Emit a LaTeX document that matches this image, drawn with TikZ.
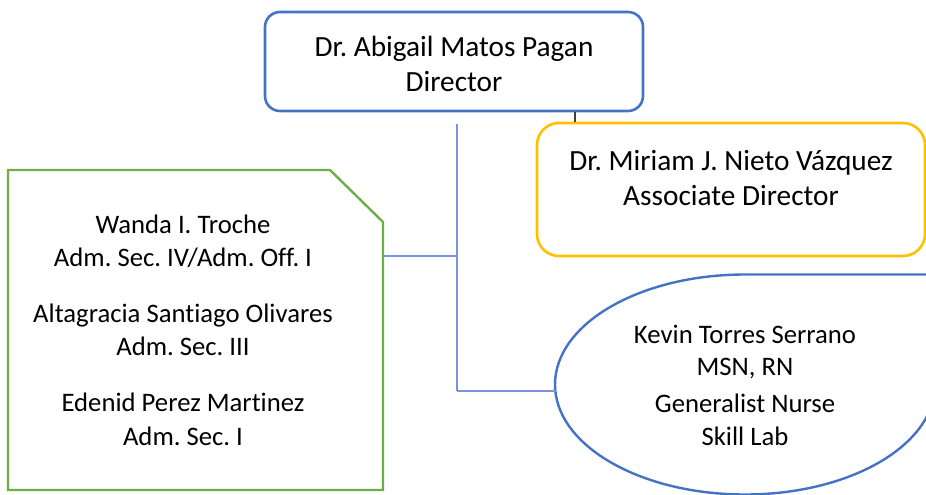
\documentclass[tikz,border=0pt]{standalone}
\usepackage{fontspec}
\setmainfont{Carlito}[Ligatures=NoCommon]
\definecolor{dblue}{HTML}{4472C4}
\definecolor{gold}{HTML}{FFC000}
\definecolor{lgreen}{HTML}{70AD47}
\definecolor{cblue}{RGB}{120,150,215}
\definecolor{dgrey}{HTML}{404040}
\begin{document}
\frenchspacing
\begin{tikzpicture}[x=1pt,y=-1pt,
  dirbox/.style={draw=dblue,line width=2.6pt,rounded corners=15pt,minimum width=378pt,minimum height=99pt,inner sep=0pt},
  assocbox/.style={draw=gold,line width=2.6pt,rounded corners=22pt,minimum width=388pt,minimum height=133pt,inner sep=0pt},
  greenbox/.style={draw=lgreen,line width=2.4pt},
  tearbox/.style={draw=dblue,line width=2.4pt},
  bigtxt/.style={anchor=base,inner sep=0pt,font=\fontsize{29.3}{34}\selectfont\frenchspacing},
  smalltxt/.style={anchor=base,inner sep=0pt,font=\fontsize{26.7}{32}\selectfont\frenchspacing},
  conn/.style={draw=cblue,line width=1.3pt},
  blkconn/.style={draw=dgrey,line width=1.5pt}]
\useasboundingbox (0,0) rectangle (926,495);
\clip (0,0) rectangle (926,495);

% boxes
\node[dirbox] (dir) at (454,61.5) {};
\node[assocbox] (assoc) at (731,189.5) {};
\draw[greenbox] (8,170) -- (330,170) -- (383,222) -- (383,490) -- (8,490) -- cycle;
\draw[tearbox] (555,384.5) .. controls (555,323.75) and (640.06,274.5) .. (745,274.5)
  -- (935,274.5) -- (935,384.5)
  .. controls (935,445.25) and (849.94,494.5) .. (745,494.5)
  .. controls (640.06,494.5) and (555,445.25) .. (555,384.5) -- cycle;

% named connector points
\coordinate (bx) at (575,0);
\coordinate (hubtop) at (457,124);
\coordinate (hubbot) at (457,391);
\coordinate (greenE) at (383,256);
\coordinate (tearW) at (555.5,391);

% connectors
\draw[blkconn] (dir.south -| bx) -- (assoc.north -| bx);
\draw[conn] (hubtop) -- (hubbot);
\draw[conn] (greenE) -- (greenE -| hubtop);
\draw[conn] (hubbot) -- (tearW);

% texts
\node[bigtxt] (d1) at (454,57) {Dr. Abigail Matos Pagan};
\node[bigtxt] (d2) at (454,91) {Director};
\node[bigtxt] (a1) at (731,170) {Dr. Miriam J. Nieto Vázquez};
\node[bigtxt] (a2) at (731,205) {Associate Director};
\node[smalltxt] (g1) at (183,233) {Wanda I. Troche};
\node[smalltxt] (g2) at (183,266) {Adm. Sec. IV/Adm. Off. I};
\node[smalltxt] (g3) at (183,322) {Altagracia Santiago Olivares};
\node[smalltxt] (g4) at (183,355) {Adm. Sec. III};
\node[smalltxt] (g5) at (183,411) {Edenid Perez Martinez};
\node[smalltxt] (g6) at (183,445) {Adm. Sec. I};
\node[smalltxt] (k1) at (745,343) {Kevin Torres Serrano};
\node[smalltxt] (k2) at (745,375) {MSN, RN};
\node[smalltxt] (k3) at (745,412) {Generalist Nurse};
\node[smalltxt] (k4) at (745,445) {Skill Lab};
\end{tikzpicture}
\end{document}
